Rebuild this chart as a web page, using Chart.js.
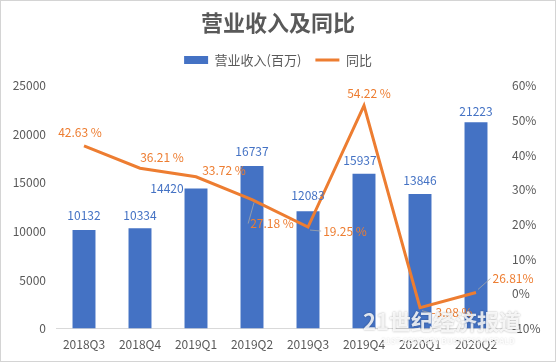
<!DOCTYPE html>
<html>
<head>
<meta charset="utf-8">
<script src="https://cdn.jsdelivr.net/npm/chart.js"></script>
<style>
  html, body { margin: 0; padding: 0; background: #fff; }
  #wrap { width: 556px; height: 362px; box-sizing: border-box; border: 1px solid #d4d4d4; }
  canvas { display: block; }
</style>
</head>
<body>
<div id="wrap"><canvas id="chart" width="554" height="360"></canvas></div>
<script>
const categories = ['2018Q3', '2018Q4', '2019Q1', '2019Q2', '2019Q3', '2019Q4', '2020Q1', '2020Q2'];
const revenue = [10132, 10334, 14420, 16737, 12083, 15937, 13846, 21223];
// the last point sits near 0% in the picture although its label reads 26.81%
const yoy = [42.63, 36.21, 33.72, 27.18, 19.25, 54.22, -3.98, 0.4];
const yoyLabels = ['42.63 %', '36.21 %', '33.72 %', '27.18 %', '19.25 %', '54.22 %', '-3.98 %', '26.81%'];
const leftTicks = [0, 5000, 10000, 15000, 20000, 25000];
const rightTicks = [-10, 0, 10, 20, 30, 40, 50, 60];

const BLUE = '#4472C4';
const ORANGE = '#ED7D31';
const GREY = '#595959';
const FONT = "'Noto Sans CJK SC', 'Noto Sans', sans-serif";

// label offsets relative to the mark
const barOffsets = [[0, -15], [0, -13], [-29, 0], [0, -14], [0, -16], [-4, -13], [0, -14], [0, -11]];
const lineOffsets = [[-4, -13], [22, -11], [28, -6], [20, 24], [37, 4], [5, -12], [32, 5], [37, -14]];
const leaders = [false, false, false, true, true, false, true, true];

const labelPlugin = {
  id: 'labels',
  afterDatasetsDraw(chart) {
    const ctx = chart.ctx;
    ctx.save();
    ctx.font = '12px ' + FONT;
    ctx.textAlign = 'center';
    ctx.textBaseline = 'middle';

    chart.getDatasetMeta(0).data.forEach((bar, i) => {
      ctx.fillStyle = BLUE;
      ctx.fillText(revenue[i], bar.x + barOffsets[i][0], bar.y + barOffsets[i][1]);
    });

    chart.getDatasetMeta(1).data.forEach((pt, i) => {
      const lx = pt.x + lineOffsets[i][0];
      const ly = pt.y + lineOffsets[i][1];
      if (leaders[i]) {
        const w = ctx.measureText(yoyLabels[i]).width;
        ctx.strokeStyle = '#a6a6a6';
        ctx.lineWidth = 0.8;
        ctx.beginPath();
        ctx.moveTo(pt.x + 2, pt.y + (ly > pt.y ? 3 : -3));
        ctx.lineTo(lx - w / 2 - 2, ly);
        ctx.stroke();
      }
      ctx.fillStyle = ORANGE;
      ctx.fillText(yoyLabels[i], lx, ly);
    });
    ctx.restore();
  }
};

const watermarkPlugin = {
  id: 'watermark',
  afterDraw(chart) {
    const ctx = chart.ctx;
    ctx.save();
    ctx.textAlign = 'center';
    ctx.textBaseline = 'middle';
    ctx.shadowColor = 'rgba(0,0,0,0.4)';
    ctx.shadowBlur = 2;
    ctx.fillStyle = 'rgba(255,255,255,0.85)';
    ctx.font = 'bold 22px ' + FONT;
    ctx.fillText('21世纪经济报道', 441, 321);
    ctx.shadowColor = 'rgba(0,0,0,0.2)';
    ctx.font = 'bold 8px ' + FONT;
    ctx.fillText('21ST CENTURY BUSINESS HERALD', 447, 340);
    ctx.restore();
  }
};

new Chart(document.getElementById('chart'), {
  data: {
    labels: categories,
    datasets: [
      {
        type: 'bar',
        label: '营业收入(百万)',
        data: revenue,
        backgroundColor: BLUE,
        borderWidth: 0,
        barPercentage: 0.41,
        categoryPercentage: 1,
        yAxisID: 'y',
        pointStyle: 'rect',
        order: 2
      },
      {
        type: 'line',
        label: '同比',
        data: yoy,
        borderColor: ORANGE,
        backgroundColor: ORANGE,
        borderWidth: 3,
        pointRadius: 0,
        tension: 0,
        yAxisID: 'y1',
        pointStyle: 'line',
        order: 1
      }
    ]
  },
  options: {
    responsive: false,
    animation: false,
    layout: { padding: { top: 6, left: 0, right: 0, bottom: 0 } },
    plugins: {
      title: {
        display: true,
        text: '营业收入及同比',
        color: GREY,
        font: { family: FONT, size: 22, weight: 'bold' },
        padding: { top: 2, bottom: 4 }
      },
      // empty spacer placed below the legend
      subtitle: {
        display: true,
        text: '',
        weight: 500,
        font: { size: 1 },
        padding: { top: 0, bottom: 8 }
      },
      legend: {
        display: true,
        labels: {
          usePointStyle: true,
          pointStyleWidth: 24,
          boxHeight: 8,
          color: GREY,
          font: { family: FONT, size: 13 },
          padding: 14,
          sort: (a, b) => a.datasetIndex - b.datasetIndex
        }
      },
      tooltip: { enabled: false }
    },
    scales: {
      x: {
        grid: { display: false, drawTicks: false },
        border: { display: true, color: '#d9d9d9' },
        ticks: { color: GREY, font: { family: FONT, size: 12 }, padding: 9 }
      },
      y: {
        position: 'left',
        min: 0,
        max: 25000,
        afterBuildTicks(axis) { axis.ticks = leftTicks.map(v => ({ value: v })); },
        afterFit(axis) { axis.width = 55; },
        grid: { display: false, drawTicks: false },
        border: { display: false },
        ticks: { color: GREY, font: { family: FONT, size: 12 }, padding: 10, callback: v => String(v) }
      },
      y1: {
        position: 'right',
        min: -10,
        max: 60,
        afterBuildTicks(axis) { axis.ticks = rightTicks.map(v => ({ value: v })); },
        afterFit(axis) { axis.width = 51; },
        grid: { display: false, drawTicks: false },
        border: { display: false },
        ticks: {
          color: GREY,
          font: { family: FONT, size: 12 },
          padding: 8,
          callback: v => v + '%'
        }
      }
    }
  },
  plugins: [labelPlugin, watermarkPlugin]
});
</script>
</body>
</html>
